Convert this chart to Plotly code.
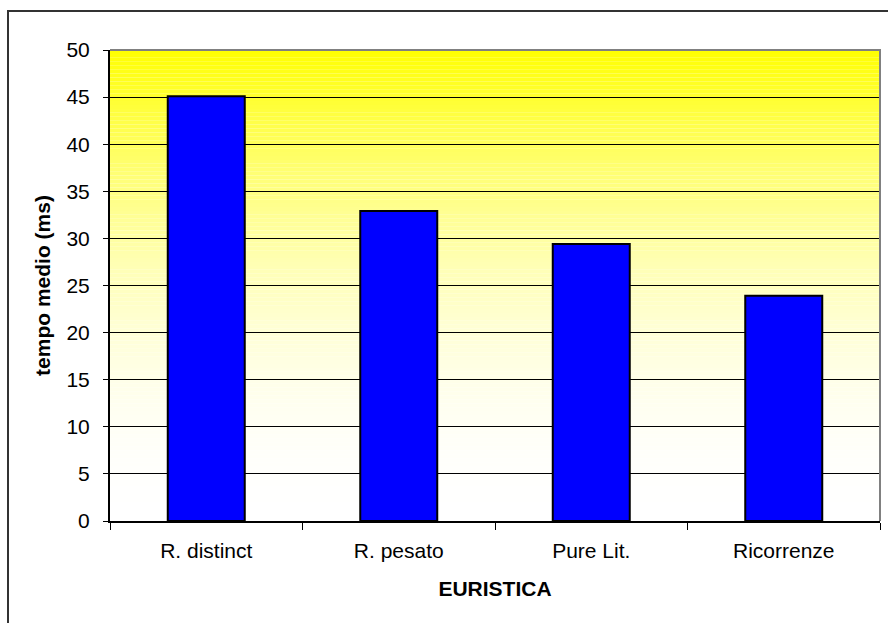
import plotly.graph_objects as go

categories = ["R. distinct", "R. pesato", "Pure Lit.", "Ricorrenze"]
tempo_medio = [45.1, 32.9, 29.4, 23.9]
y_ticks = [0, 5, 10, 15, 20, 25, 30, 35, 40, 45, 50]

W, H = 888, 623
ML, MR, MT, MB = 110, 8, 50, 102
PW, PH = W - ML - MR, H - MT - MB

FONT = "Liberation Sans, Arial, sans-serif"

fig = go.Figure()
fig.add_trace(go.Bar(
    x=categories,
    y=tempo_medio,
    marker=dict(color="#0000FF", line=dict(color="#000000", width=2)),
    width=0.4,
    hoverinfo="x+y",
))

shapes = []
# vertical yellow (top) to white (bottom) gradient behind the plot
n_bands = 120
y_top = y_ticks[-1]
for i in range(n_bands):
    y0 = y_top * i / n_bands
    y1 = y_top * (i + 1) / n_bands
    s = 1 - (i + 0.5) / n_bands  # 0 at top, 1 at bottom
    b = int(round(255 * (1 - (1 - s) ** 2)))
    shapes.append(dict(
        type="rect", xref="x domain", yref="y",
        x0=0, x1=1, y0=y0, y1=y1,
        fillcolor=f"rgb(255,255,{b})", line=dict(width=0), layer="below",
    ))

# grey frame on top and right of plot area
shapes.append(dict(
    type="path", xref="paper", yref="paper",
    path="M 0,1 L 1,1 L 1,0",
    line=dict(color="#808080", width=2), layer="above",
))

# outer chart border
def px_x(px):
    return (px - ML) / PW

def px_y(py):
    return (H - MB - py) / PH

shapes.append(dict(
    type="rect", xref="paper", yref="paper",
    x0=px_x(8), x1=px_x(892), y0=px_y(628), y1=px_y(11),
    line=dict(color="#333333", width=2), fillcolor="rgba(0,0,0,0)", layer="above",
))

fig.update_layout(
    width=W, height=H,
    margin=dict(l=ML, r=MR, t=MT, b=MB),
    paper_bgcolor="white",
    plot_bgcolor="white",
    font=dict(family=FONT, size=21, color="black"),
    showlegend=False,
    shapes=shapes,
    xaxis=dict(
        type="category",
        tickson="boundaries",
        ticks="outside", ticklen=7, tickcolor="black", tickwidth=1,
        showline=True, linecolor="black", linewidth=2,
        showgrid=False,
        ticklabelstandoff=10,
        title=dict(text="<b>EURISTICA</b>", font=dict(size=21), standoff=20),
    ),
    yaxis=dict(
        range=[0, 50],
        tickvals=y_ticks,
        ticks="outside", ticklen=5, tickcolor="black", tickwidth=1,
        showline=True, linecolor="black", linewidth=2,
        showgrid=True, gridcolor="black", gridwidth=1,
        zeroline=False,
        ticklabelstandoff=9,
        title=dict(text="<b>tempo medio (ms)</b>", font=dict(size=21), standoff=10),
    ),
)

fig.write_html("out.html")
